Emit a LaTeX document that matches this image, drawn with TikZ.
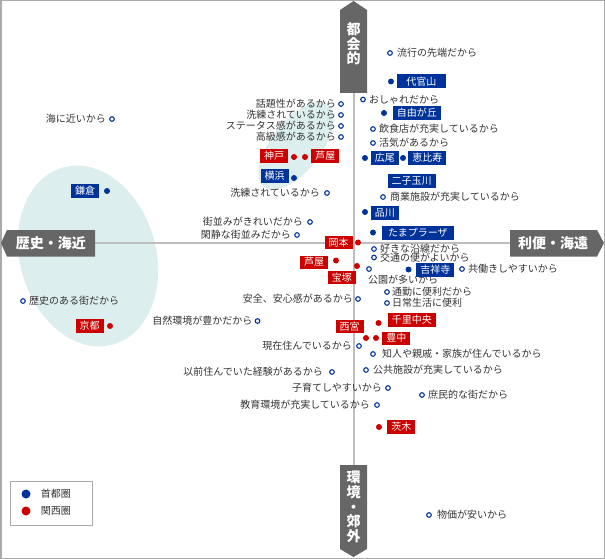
\documentclass[tikz,border=0pt]{standalone}
\usepackage{fontspec}
\setmainfont{Noto Sans CJK JP}
\usepackage{tikz}
\usetikzlibrary{positioning}
\definecolor{tokyoblue}{RGB}{0,51,153}
\definecolor{kansaired}{RGB}{204,0,0}
\definecolor{labelgray}{RGB}{102,102,102}
\definecolor{axisgray}{RGB}{190,190,190}
\definecolor{framegray}{RGB}{170,170,170}
\definecolor{areateal}{RGB}{221,238,238}
\definecolor{textgray}{RGB}{51,51,51}
\tikzstyle{reason} = [circle,draw=tokyoblue,fill=white,line width=1.1pt,inner sep=0pt,minimum size=4.6pt]
\tikzstyle{tdot} = [circle,fill=tokyoblue,inner sep=0pt,minimum size=6pt]
\tikzstyle{kdot} = [circle,fill=kansaired,inner sep=0pt,minimum size=6pt]
\tikzstyle{tbox} = [fill=tokyoblue,text=white,inner xsep=4pt,inner ysep=0pt,minimum height=14pt,font=\fontsize{10}{10}\selectfont]
\tikzstyle{kbox} = [tbox,fill=kansaired]
\tikzstyle{why} = [text=textgray,inner sep=0pt,font=\fontsize{10}{10}\selectfont]
\tikzstyle{axislabel} = [text=white,align=center,inner sep=0pt,font=\fontsize{14}{14.6}\selectfont\bfseries]

\begin{document}
\begin{tikzpicture}[x=1pt,y=-1pt]
	\useasboundingbox (0,0) rectangle (605,559);
	\begin{scope}[shift={(88,256)},rotate=16]
		\fill[areateal] (0,0) ellipse (68 and 92);
	\end{scope}
	\begin{scope}[shift={(296,146)},rotate=-38]
		\fill[areateal] (0,0) ellipse (25 and 52);
	\end{scope}
	\draw[framegray,line width=1.5pt] (0.75,0.75) rectangle (604.25,558.25);

	% axes
	\coordinate (top) at (353.5,44);
	\coordinate (bottom) at (353.5,507);
	\coordinate (left) at (51,243);
	\coordinate (right) at (553,243);
	\draw[axisgray,line width=2pt] (top) -- (bottom);
	\draw[axisgray,line width=2pt] (left) -- (right);
	\fill[labelgray] (353.5,1) -- (367,10) -- (367,93) -- (340,93) -- (340,10) -- cycle;
	\fill[labelgray] (340,465) -- (367,465) -- (367,549) -- (353.5,557) -- (340,549) -- cycle;
	\fill[labelgray] (1,243) -- (7,230) -- (95,230) -- (95,256.5) -- (7,256.5) -- cycle;
	\fill[labelgray] (510,230) -- (597,230) -- (604,243) -- (597,256.5) -- (510,256.5) -- cycle;
	\node[axislabel] (lblTop) at (top) {都\\会\\的};
	\node[axislabel] (lblBottom) at (bottom) {環\\境\\・\\郊\\外};
	\node[axislabel] (lblLeft) at (left) {歴史・海近};
	\node[axislabel] (lblRight) at (right) {利便・海遠};

	% reasons, text to the right
	\node[reason] (r1) at (390,53) {};
	\node[why,right=4pt of r1] {流行の先端だから};
	\node[reason] (r2) at (363,99.5) {};
	\node[why,right=3pt of r2] {おしゃれだから};
	\node[reason] (r3) at (373,129) {};
	\node[why,right=3pt of r3] {飲食店が充実しているから};
	\node[reason] (r4) at (373,143) {};
	\node[why,right=3pt of r4] {活気があるから};
	\node[reason] (r5) at (383,197) {};
	\node[why,right=4pt of r5] {商業施設が充実しているから};
	\node[reason] (r6) at (374,249) {};
	\node[why,right=3pt of r6] {好きな沿線だから};
	\node[reason] (r7) at (374,257.5) {};
	\node[why,right=3pt of r7] {交通の便がよいから};
	\node[reason] (r8) at (462,269) {};
	\node[why,right=3pt of r8] {共働きしやすいから};
	\node[reason] (r9) at (369,269) {};
	\node[why,anchor=west] at (368,280) {公園が多いから};
	\node[reason] (r10) at (387,292) {};
	\node[why,right=2pt of r10] {通勤に便利だから};
	\node[reason] (r11) at (387,303) {};
	\node[why,right=2pt of r11] {日常生活に便利};
	\node[reason] (r12) at (373,354) {};
	\node[why,right=6pt of r12] {知人や親戚・家族が住んでいるから};
	\node[reason] (r13) at (366,370) {};
	\node[why,right=4pt of r13] {公共施設が充実しているから};
	\node[reason] (r14) at (422,395) {};
	\node[why,right=3pt of r14] {庶民的な街だから};
	\node[reason] (r15) at (23,301) {};
	\node[why,right=3pt of r15] {歴史のある街だから};
	\node[reason] (r16) at (429,515) {};
	\node[why,right=5pt of r16] {物価が安いから};

	% reasons, text to the left
	\node[reason] (r17) at (341,104) {};
	\node[why,left=2pt of r17] {話題性があるから};
	\node[reason] (r18) at (341,115) {};
	\node[why,left=2pt of r18] {洗練されているから};
	\node[reason] (r19) at (341,126) {};
	\node[why,left=2pt of r19] {ステータス感があるから};
	\node[reason] (r20) at (341,137) {};
	\node[why,left=2pt of r20] {高級感があるから};
	\node[reason] (r21) at (327,193) {};
	\node[why,left=4pt of r21] {洗練されているから};
	\node[reason] (r22) at (112,119) {};
	\node[why,left=3pt of r22] {海に近いから};
	\node[reason] (r23) at (310,222) {};
	\node[why,left=4pt of r23] {街並みがきれいだから};
	\node[reason] (r24) at (297,235) {};
	\node[why,left=3pt of r24] {閑静な街並みだから};
	\node[reason] (r25) at (358,299) {};
	\node[why,left=2pt of r25] {安全、安心感があるから};
	\node[reason] (r26) at (257.5,321) {};
	\node[why,left=2pt of r26] {自然環境が豊かだから};
	\node[reason] (r27) at (359,346) {};
	\node[why,left=4pt of r27] {現在住んでいるから};
	\node[reason] (r28) at (332,372) {};
	\node[why,left=6pt of r28] {以前住んでいた経験があるから};
	\node[reason] (r29) at (388,388) {};
	\node[why,left=3pt of r29] {子育てしやすいから};
	\node[reason] (r30) at (377,405) {};
	\node[why,left=4pt of r30] {教育環境が充実しているから};

	% Tokyo area
	\node[tdot] (dDaikanyama) at (391,81.5) {};
	\node[tbox,minimum width=49pt,right=2.5pt of dDaikanyama] (daikanyama) {代官山};
	\node[tdot] (dJiyugaoka) at (384,113) {};
	\node[tbox,right=5.5pt of dJiyugaoka] (jiyugaoka) {自由が丘};
	\node[tdot] (dHiroo) at (365,158) {};
	\node[tbox,right=2.5pt of dHiroo] (hiroo) {広尾};
	\node[tdot] (dEbisu) at (403,158) {};
	\node[tbox,right=2pt of dEbisu] (ebisu) {恵比寿};
	\node[tbox] (futako) at (411.5,180.5) {二子玉川};
	\node[tdot] (dYokohama) at (294,178) {};
	\node[tbox,left=2pt of dYokohama,yshift=2.5pt] (yokohama) {横浜};
	\node[tdot] (dKamakura) at (107,191) {};
	\node[tbox,left=4.5pt of dKamakura] (kamakura) {鎌倉};
	\node[tdot] (dShinagawa) at (365,212) {};
	\node[tbox,right=2.5pt of dShinagawa,yshift=-1pt] (shinagawa) {品川};
	\node[tdot] (dTamaplaza) at (373,232.5) {};
	\node[tbox,minimum width=72pt,right=5.5pt of dTamaplaza] (tamaplaza) {たまプラーザ};
	\node[tdot] (dKichijoji) at (408.5,269.5) {};
	\node[tbox,right=4.5pt of dKichijoji] (kichijoji) {吉祥寺};

	% Kansai area
	\node[kdot] (dKobe) at (294,157) {};
	\node[kbox,left=2.5pt of dKobe,yshift=1pt] (kobe) {神戸};
	\node[kdot] (dAshiya) at (305,157) {};
	\node[kbox,right=3pt of dAshiya,yshift=1pt] (ashiya) {芦屋};
	\node[kdot] (dOkamoto) at (358,242.5) {};
	\node[kbox,minimum height=13pt,left=2pt of dOkamoto] (okamoto) {岡本};
	\node[kdot] (dAshiya2) at (336,260.5) {};
	\node[kbox,minimum height=13pt,left=4.5pt of dAshiya2,yshift=-1.5pt] (ashiya2) {芦屋};
	\node[kdot] (dTakarazuka) at (357,266) {};
	\node[kbox,minimum height=13pt,below left=3pt and -1.3pt of dTakarazuka] (takarazuka) {宝塚};
	\node[kdot] (dKyoto) at (110,326) {};
	\node[kbox,left=3pt of dKyoto] (kyoto) {京都};
	\node[kdot] (dSenri) at (378.5,323) {};
	\node[kbox,right=6pt of dSenri,yshift=3pt] (senri) {千里中央};
	\node[kdot] (dNishinomiya) at (366,338) {};
	\node[kbox,minimum height=13pt,above left=2.5pt and 0pt of dNishinomiya] (nishinomiya) {西宮};
	\node[kdot] (dToyonaka) at (376,338) {};
	\node[kbox,minimum height=13pt,right=3pt of dToyonaka] (toyonaka) {豊中};
	\node[kdot] (dIbaraki) at (379,427) {};
	\node[kbox,right=5pt of dIbaraki] (ibaraki) {茨木};

	% legend
	\draw[framegray] (10.5,481.5) rectangle (92.5,525.5);
	\node[tdot,minimum size=9pt] (legTokyo) at (26,494) {};
	\node[why,right=10pt of legTokyo] {首都圏};
	\node[kdot,minimum size=9pt] (legKansai) at (26,511) {};
	\node[why,right=10pt of legKansai] {関西圏};
\end{tikzpicture}
\end{document}
